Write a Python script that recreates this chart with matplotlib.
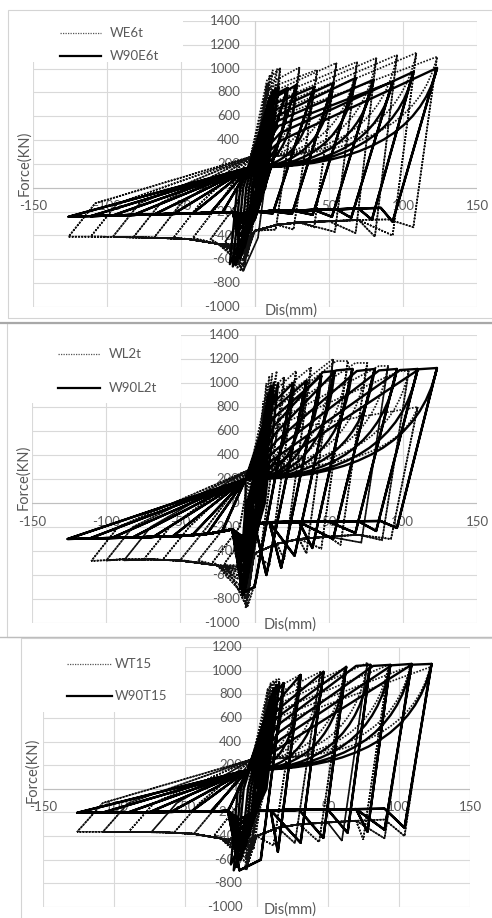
import matplotlib
matplotlib.use("Agg")
import matplotlib.pyplot as plt
from matplotlib.path import Path
from matplotlib.patches import PathPatch, Rectangle
from matplotlib.lines import Line2D

plt.rcParams['font.family'] = ['Lato', 'DejaVu Sans']

# ---------------- panel 1 : WE6t (dotted) / W90E6t (solid) ----------------
# small near-elastic cycles: peaks and zero-force crossings
p1s_sm_px = [3, 5, 7, 10, 12, 14, 16]
p1s_sm_pf = [250, 450, 600, 760, 820, 840, 850]
p1s_sm_nx = [-3, -5, -7, -10, -13, -15, -17]
p1s_sm_nf = [-250, -400, -500, -600, -650, -660, -640]
p1s_sm_ux = [1, 2, 3, 4, 5, 6, 7]
p1s_sm_rx = [-1, -2, -4, -6, -8, -10, -12]
# large cycles
p1s_dp = [22, 28, 40, 53, 68, 80, 93, 107, 123]
p1s_fp = [839, 864, 847, 880, 922, 906, 890, 973, 1006]
p1s_yx = [10, 11, 12, 13, 14, 15, 16, 17, 18]
p1s_yf = [760, 740, 700, 650, 600, 560, 520, 460, 400]
p1s_vx = [-6, 0, 12, 25, 39, 52, 65, 79, 93]
p1s_vf = [-300, -260, -215, -218, -226, -243, -252, -268, -285]
p1s_pl_x = [100, 85, 70, 55, 40, 25, 10, 0, -15, -30, -50, -70, -90, -110]
p1s_pl_f = [-160, -168, -174, -180, -186, -190, -195, -200, -205, -210, -217, -223, -230, -237]
p1s_dn = [-22, -30, -42, -55, -68, -82, -96, -111, -126]
p1s_fn = [-206, -209, -213, -218, -223, -227, -232, -238, -243]
p1s_hump_f = [-560, -480, -400, -340, -300, -260, -240, -225, -215]

p1d_sm_px = [2, 4, 6, 8, 10, 12, 15]
p1d_sm_pf = [300, 550, 750, 880, 950, 990, 1000]
p1d_sm_nx = [-2, -3, -5, -7, -8, -10, -12]
p1d_sm_nf = [-300, -450, -580, -650, -700, -700, -680]
p1d_sm_ux = [1, 1, 2, 3, 4, 5, 6]
p1d_sm_rx = [-1, -1, -2, -3, -5, -6, -8]
p1d_dp = [17, 30, 42, 55, 69, 82, 96, 109, 123]
p1d_fp = [1006, 1010, 990, 1048, 1057, 1090, 1115, 1132, 1100]
p1d_yx = [8, 9, 10, 11, 12, 13, 14, 15, 16]
p1d_yf = [900, 870, 840, 800, 760, 720, 680, 640, 600]
p1d_vx = [2, 14, 26, 40, 54, 68, 81, 93, 107]
p1d_vf = [-420, -350, -350, -330, -370, -380, -410, -400, -330]
p1d_pl_x = [110, 90, 70, 50, 30, 15, 0, -25, -45, -65, -85, -105]
p1d_pl_f = [-260, -265, -270, -280, -290, -310, -360, -470, -430, -420, -415, -410]
p1d_dn = [-20, -30, -42, -55, -68, -82, -96, -111, -126]
p1d_fn = [-450, -430, -420, -418, -415, -412, -410, -410, -410]
p1d_hump_f = [-700, -650, -600, -560, -540, -520, -500, -480, -470]

# ---------------- panel 2 : WL2t / W90L2t ----------------
p2s_sm_px = [3, 5, 7, 9, 11, 13, 16]
p2s_sm_pf = [300, 550, 750, 900, 980, 1000, 1000]
p2s_sm_nx = [-2, -3, -5, -6, -7, -8, -10]
p2s_sm_nf = [-300, -450, -600, -700, -760, -775, -720]
p2s_sm_ux = [1, 2, 3, 4, 5, 6, 7]
p2s_sm_rx = [-1, -1, -2, -3, -4, -5, -6]
p2s_dp = [26, 35, 45, 54, 66, 81, 96, 110, 123]
p2s_fp = [1000, 1017, 1060, 1100, 1117, 1117, 1117, 1117, 1125]
p2s_kx = [26, 35, 45, 46, 55, 69, 84, 98, 111]
p2s_kf = [1000, 1017, 1060, 1090, 1105, 1100, 1105, 1108, 1115]
p2s_yx = [10, 11, 12, 13, 14, 15, 16, 17, 18]
p2s_yf = [800, 760, 700, 640, 580, 520, 460, 400, 350]
p2s_vx = [0, 8, 18, 27, 39, 53, 68, 82, 96]
p2s_vf = [-700, -600, -540, -440, -375, -300, -250, -233, -208]
p2s_pl_x = [100, 85, 70, 50, 30, 10, 0, -15, -30, -50, -70, -90, -110]
p2s_pl_f = [-148, -150, -152, -155, -158, -160, -175, -220, -255, -275, -283, -290, -295]
p2s_dn = [-22, -32, -42, -55, -68, -82, -96, -111, -126]
p2s_fn = [-240, -258, -268, -276, -281, -286, -290, -295, -300]
p2s_hump_f = [-750, -650, -560, -480, -420, -380, -340, -300, -280]

p2d_sm_px = [2, 4, 6, 8, 10, 12, 15]
p2d_sm_pf = [350, 600, 850, 1000, 1060, 1080, 1100]
p2d_sm_nx = [-1, -2, -3, -4, -5, -6, -7]
p2d_sm_nf = [-300, -500, -650, -780, -850, -875, -830]
p2d_sm_ux = [1, 1, 2, 3, 4, 5, 6]
p2d_sm_rx = [0, -1, -1, -2, -3, -4, -5]
p2d_dp = [20, 28, 38, 53, 63, 76, 90, 104, 110]
p2d_fp = [1050, 1100, 1130, 1200, 1183, 1167, 1142, 1100, 800]
p2d_kx = [20, 28, 38, 53, 55, 68, 84, 98, 110]
p2d_kf = [1050, 1100, 1130, 1200, 1183, 1167, 1142, 1100, 800]
p2d_yx = [8, 9, 10, 11, 12, 13, 14, 15, 16]
p2d_yf = [900, 880, 850, 800, 760, 720, 680, 640, 600]
p2d_vx = [2, 10, 20, 35, 45, 58, 72, 86, 92]
p2d_vf = [-600, -520, -470, -420, -380, -350, -330, -310, -300]
p2d_pl_x = [110, 90, 70, 50, 30, 15, 0, -25, -50, -70, -90]
p2d_pl_f = [-250, -255, -265, -280, -300, -340, -420, -520, -480, -470, -470]
p2d_dn = [-20, -28, -38, -50, -62, -75, -88, -100, -110]
p2d_fn = [-500, -490, -480, -475, -475, -475, -478, -480, -483]
p2d_hump_f = [-870, -800, -740, -680, -640, -600, -570, -540, -520]

# ---------------- panel 3 : WT15 / W90T15 ----------------
p3s_sm_px = [3, 5, 7, 10, 12, 14, 16]
p3s_sm_pf = [250, 450, 600, 780, 850, 880, 895]
p3s_sm_nx = [-3, -5, -8, -11, -14, -16, -18]
p3s_sm_nf = [-250, -400, -500, -600, -660, -690, -640]
p3s_sm_ux = [1, 2, 3, 4, 5, 6, 7]
p3s_sm_rx = [-1, -2, -4, -6, -9, -11, -13]
p3s_dp = [19, 31, 47, 63, 80, 94, 109, 123]
p3s_fp = [895, 964, 990, 1032, 1049, 1049, 1057, 1057]
p3s_kx = [19, 31, 47, 63, 70, 82, 95, 109]
p3s_kf = [895, 964, 990, 1032, 1040, 1040, 1045, 1050]
p3s_yx = [10, 12, 13, 14, 15, 16, 17, 18]
p3s_yf = [750, 700, 650, 600, 540, 480, 420, 360]
p3s_vx = [3, 15, 31, 47, 64, 78, 90, 104]
p3s_vf = [-600, -533, -457, -415, -372, -364, -347, -330]
p3s_pl_x = [110, 90, 70, 50, 30, 10, 0, -20, -40, -60, -80, -100]
p3s_pl_f = [-165, -168, -172, -175, -178, -182, -185, -188, -192, -195, -198, -200]
p3s_dn = [-20, -32, -46, -60, -75, -90, -108, -126]
p3s_fn = [-188, -191, -193, -195, -197, -199, -201, -203]
p3s_hump_f = [-690, -600, -520, -450, -400, -350, -300, -260]

p3d_sm_px = [2, 4, 6, 8, 10, 12, 14]
p3d_sm_pf = [300, 550, 720, 850, 900, 920, 930]
p3d_sm_nx = [-2, -3, -5, -6, -7, -8, -7]
p3d_sm_nf = [-300, -450, -560, -640, -690, -690, -650]
p3d_sm_ux = [1, 1, 2, 3, 4, 5, 6]
p3d_sm_rx = [-1, -1, -2, -3, -4, -5, -6]
p3d_dp = [16, 30, 45, 62, 78, 93, 108, 122]
p3d_fp = [930, 960, 990, 1020, 1066, 1050, 1040, 1030]
p3d_yx = [8, 9, 10, 11, 12, 13, 14, 15]
p3d_yf = [850, 820, 780, 740, 700, 650, 600, 560]
p3d_vx = [-2, 12, 27, 44, 60, 75, 90, 104]
p3d_vf = [-500, -480, -460, -450, -440, -430, -420, -400]
p3d_pl_x = [110, 90, 70, 50, 30, 15, 0, -25, -45, -65, -85, -105]
p3d_pl_f = [-250, -260, -270, -285, -300, -330, -400, -420, -380, -368, -365, -364]
p3d_dn = [-18, -30, -44, -58, -74, -90, -108, -126]
p3d_fn = [-420, -400, -380, -372, -368, -366, -365, -364]
p3d_hump_f = [-690, -640, -600, -560, -520, -490, -460, -440]

legend_labels = [("WE6t", "W90E6t"), ("WL2t", "W90L2t"), ("WT15", "W90T15")]
y_ticks = [list(range(-1000, 1401, 200)), list(range(-1000, 1401, 200)), list(range(-1000, 1201, 200))]
x_ticks = [-150, -100, -50, 0, 50, 100, 150]

W, H = 492, 918
GRAY = "#595959"


def hyst_path(sm, dp, fp, yx, yf, vx, vf, pl_x, pl_f,
              dn, fn, hump_x, hump_f, pinch, kx=None, kf=None, reload=None):
    verts = [(0, 0)]
    codes = [Path.MOVETO]

    def line(p):
        verts.append(p)
        codes.append(Path.LINETO)

    for a, b, c, d, u, r in zip(*sm):
        line((a, b))
        line((u, 0))
        line((c, d))
        line((r, 0))
    line(pinch)
    for i in range(len(dp)):
        for rep in range(2):
            if rep == 0:
                line((yx[i], yf[i]))
                if kx is not None:
                    line((kx[i], kf[i]))
                line((dp[i], fp[i]))
            else:
                verts += [(0.87 * dp[i], pinch[1]), (dp[i], fp[i])]
                codes += [Path.CURVE3, Path.CURVE3]
            line((vx[i], vf[i]))
            pts = [(x, f) for x, f in zip(pl_x, pl_f) if dn[i] < x < vx[i] - 4]
            if dn[i] < hump_x < vx[i] - 4:
                pts.append((hump_x, hump_f[i]))
            for p in sorted(pts, key=lambda q: -q[0]):
                line(p)
            line((dn[i], fn[i]))
            if reload is not None:
                line((dn[i] + reload[0], reload[1]))
            line(pinch)
    return Path(verts, codes)


paths = [
    (hyst_path((p1d_sm_px, p1d_sm_pf, p1d_sm_nx, p1d_sm_nf, p1d_sm_ux, p1d_sm_rx),
               p1d_dp, p1d_fp, p1d_yx, p1d_yf, p1d_vx, p1d_vf, p1d_pl_x, p1d_pl_f,
               p1d_dn, p1d_fn, -8, p1d_hump_f, (-3, 260), reload=(18, -130)),
     hyst_path((p1s_sm_px, p1s_sm_pf, p1s_sm_nx, p1s_sm_nf, p1s_sm_ux, p1s_sm_rx),
               p1s_dp, p1s_fp, p1s_yx, p1s_yf, p1s_vx, p1s_vf, p1s_pl_x, p1s_pl_f,
               p1s_dn, p1s_fn, -10, p1s_hump_f, (-4, 170))),
    (hyst_path((p2d_sm_px, p2d_sm_pf, p2d_sm_nx, p2d_sm_nf, p2d_sm_ux, p2d_sm_rx),
               p2d_dp, p2d_fp, p2d_yx, p2d_yf, p2d_vx, p2d_vf, p2d_pl_x, p2d_pl_f,
               p2d_dn, p2d_fn, -5, p2d_hump_f, (-3, 280), kx=p2d_kx, kf=p2d_kf, reload=(18, -200)),
     hyst_path((p2s_sm_px, p2s_sm_pf, p2s_sm_nx, p2s_sm_nf, p2s_sm_ux, p2s_sm_rx),
               p2s_dp, p2s_fp, p2s_yx, p2s_yf, p2s_vx, p2s_vf, p2s_pl_x, p2s_pl_f,
               p2s_dn, p2s_fn, -8, p2s_hump_f, (-6, 200), kx=p2s_kx, kf=p2s_kf)),
    (hyst_path((p3d_sm_px, p3d_sm_pf, p3d_sm_nx, p3d_sm_nf, p3d_sm_ux, p3d_sm_rx),
               p3d_dp, p3d_fp, p3d_yx, p3d_yf, p3d_vx, p3d_vf, p3d_pl_x, p3d_pl_f,
               p3d_dn, p3d_fn, -6, p3d_hump_f, (-3, 250), reload=(18, -120)),
     hyst_path((p3s_sm_px, p3s_sm_pf, p3s_sm_nx, p3s_sm_nf, p3s_sm_ux, p3s_sm_rx),
               p3s_dp, p3s_fp, p3s_yx, p3s_yf, p3s_vx, p3s_vf, p3s_pl_x, p3s_pl_f,
               p3s_dn, p3s_fn, -12, p3s_hump_f, (-6, 160), kx=p3s_kx, kf=p3s_kf)),
]

# pixel boxes (left, right, top, bottom) of the plot areas
boxes = [(33, 477, 21, 307), (32, 477, 335, 623), (43, 470, 647, 907)]
force_pos = [(24, 163), (23, 477), (32, 770)]
dis_pos = [(291, 311), (290, 625), (290, 910)]
leg_rows = [((60, 101, 110), 33, 56), ((58, 100, 109), 354, 388), ((67, 112, 115), 664, 696)]
leg_bg = [(33, 183, 21, 62), (32, 181, 335, 403), (43, 185, 647, 712)]


def fx(px):
    return px / W


def fy(py):
    return 1 - py / H


fig = plt.figure(figsize=(W / 100, H / 100), dpi=100)

# chart-area frames
fig.add_artist(Rectangle((fx(8), fy(318)), fx(495 - 8), 308 / H, transform=fig.transFigure,
                         fill=False, edgecolor="#d4d4d4", lw=0.8))
fig.add_artist(Rectangle((fx(7), fy(637)), fx(495 - 7), 314 / H, transform=fig.transFigure,
                         fill=False, edgecolor="#d4d4d4", lw=0.8))
fig.add_artist(Rectangle((fx(21), fy(930)), fx(495 - 21), 292 / H, transform=fig.transFigure,
                         fill=False, edgecolor="#d4d4d4", lw=0.8))
fig.add_artist(Line2D([0, 1], [fy(323), fy(323)], transform=fig.transFigure, color="#a8a8a8", lw=1.6))
fig.add_artist(Line2D([0, 1], [fy(637), fy(637)], transform=fig.transFigure, color="#bdbdbd", lw=1.0))

for k in range(3):
    l, r, t, b = boxes[k]
    ax = fig.add_axes([fx(l), fy(b), (r - l) / W, (b - t) / H])
    yt = y_ticks[k]
    ax.set_xlim(-150, 150)
    ax.set_ylim(yt[0], yt[-1])
    ax.axis("off")
    for x in x_ticks:
        ax.axvline(x, color="#d9d9d9", lw=0.8, zorder=0)
    for y in yt:
        ax.axhline(y, color="#d9d9d9", lw=0.8, zorder=0)
    ax.axhline(0, color="#bfbfbf", lw=0.8, zorder=0)
    ax.axvline(0, color="#d0d0d0", lw=0.8, zorder=0)
    for y in yt:
        ax.text(-10, y, str(y), ha="right", va="center", fontsize=9.5, color=GRAY, zorder=1)
    for x in x_ticks:
        ax.text(x, -155, str(x), ha="center", va="center", fontsize=9.5, color=GRAY, zorder=1)

    dotted, solid = paths[k]
    ax.add_patch(PathPatch(dotted, facecolor="none", edgecolor="#111111", lw=1.2,
                           linestyle=(0, (1, 0.9)), zorder=3, clip_on=False))
    ax.add_patch(PathPatch(solid, facecolor="none", edgecolor="black", lw=1.7,
                           joinstyle="round", zorder=4, clip_on=False))

    # legend
    bl, br, bt, bb = leg_bg[k]
    fig.add_artist(Rectangle((fx(bl), fy(bb)), (br - bl) / W, (bb - bt) / H, transform=fig.transFigure,
                             facecolor="white", edgecolor="none", zorder=2))
    (x0, x1, xt), ya, yb = leg_rows[k]
    fig.add_artist(Line2D([fx(x0), fx(x1)], [fy(ya), fy(ya)], transform=fig.transFigure,
                          color="#555555", lw=0.9, linestyle=(0, (1, 1)), zorder=3))
    fig.add_artist(Line2D([fx(x0), fx(x1)], [fy(yb), fy(yb)], transform=fig.transFigure,
                          color="black", lw=1.6, zorder=3))
    fig.text(fx(xt), fy(ya), legend_labels[k][0], ha="left", va="center", fontsize=9.5, color=GRAY, zorder=4)
    fig.text(fx(xt), fy(yb), legend_labels[k][1], ha="left", va="center", fontsize=9.5, color=GRAY, zorder=4)

    fig.text(fx(force_pos[k][0]), fy(force_pos[k][1]), "Force(KN)", rotation=90, ha="center", va="center",
             fontsize=10.5, color=GRAY)
    fig.text(fx(dis_pos[k][0]), fy(dis_pos[k][1]), "Dis(mm)", ha="center", va="center",
             fontsize=10.5, color=GRAY)

fig.savefig("out.png", dpi=100)
